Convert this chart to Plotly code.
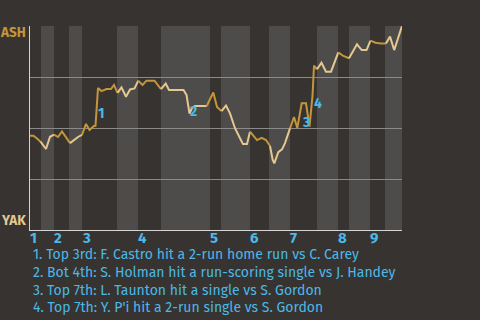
import plotly.graph_objects as go

# Half-inning boundaries along game progress axis (top/bottom alternating)
half_bounds = [0, 11, 24, 39, 52, 87, 108, 131, 180, 191, 220, 239, 260, 287, 308, 319, 340, 355, 372]
innings = ["1", "2", "3", "4", "5", "6", "7", "8", "9"]

# Game progress and ASH win probability
progress = [0, 3.5, 7, 10.5, 13, 16, 20, 24, 28, 32, 36, 40, 44, 48, 52, 56, 59.5, 64, 65.5,
            68, 71.5, 76.5, 81, 84, 87.5, 91.5, 96, 100, 104.5, 108.3, 112.5, 116.5, 120, 124.5,
            131, 135.7, 139, 144, 149, 153.5, 156.5, 159.5, 162, 165, 171, 176.7, 183.3, 187,
            191.5, 196, 200, 205, 210, 213, 217, 220, 223.5, 227, 231.7, 236, 240, 242.7, 244.3,
            248.3, 252, 255, 260, 264, 267.3, 271.7, 276, 279.5, 282.5, 284, 287, 291.5, 296,
            301, 308.3, 313.3, 319, 327, 331.7, 336.5, 340.5, 345.5, 351, 356, 360, 364.2, 368.3, 372]
ash_wp = [0.462, 0.462, 0.449, 0.433, 0.417, 0.397, 0.457, 0.468, 0.456, 0.483, 0.451, 0.426,
          0.441, 0.456, 0.466, 0.520, 0.490, 0.510, 0.511,
          0.696, 0.681, 0.691, 0.691, 0.711, 0.672, 0.699, 0.653, 0.689, 0.694, 0.732, 0.711,
          0.732, 0.732, 0.732,
          0.691, 0.718, 0.686, 0.686, 0.686, 0.686, 0.662, 0.571, 0.598, 0.608, 0.608, 0.608,
          0.674, 0.603,
          0.583, 0.610, 0.572, 0.499, 0.450, 0.422, 0.422, 0.482, 0.461, 0.441, 0.452, 0.441,
          0.412, 0.343, 0.327,
          0.382, 0.395, 0.426, 0.498, 0.554, 0.500, 0.621, 0.621, 0.507, 0.657, 0.806, 0.788,
          0.820, 0.776,
          0.776, 0.871, 0.853, 0.842, 0.910, 0.882, 0.882, 0.928, 0.918, 0.914, 0.914, 0.948,
          0.882, 0.946, 1.0]

event_labels = ["1", "2", "3", "4"]
event_x = [71, 163, 275.7, 287.7]
event_y = [0.569, 0.583, 0.525, 0.621]
event_text = [
    "1. Top 3rd: F. Castro hit a 2-run home run vs C. Carey",
    "2. Bot 4th: S. Holman hit a run-scoring single vs J. Handey",
    "3. Top 7th: L. Taunton hit a single vs S. Gordon",
    "4. Top 7th: Y. P'i hit a 2-run single vs S. Gordon",
]
teams = ["ASH", "YAK"]

BG = "#363330"
BAND = "#4e4c4a"
ASH_COL = "#c4963c"
YAK_COL = "#e4c890"
BLUE = "#4cb8e8"
FONT = "Fira Sans, Open Sans, sans-serif"

fig = go.Figure()

# split line into half-inning coloured segments
def half_index(xm):
    for i in range(len(half_bounds) - 1):
        if half_bounds[i] <= xm < half_bounds[i + 1]:
            return i
    return len(half_bounds) - 2

segs = []
cur = None
for i in range(len(progress) - 1):
    h = half_index((progress[i] + progress[i + 1]) / 2) % 2
    if cur is None or cur[0] != h:
        cur = [h, [progress[i]], [ash_wp[i]]]
        segs.append(cur)
    cur[1].append(progress[i + 1])
    cur[2].append(ash_wp[i + 1])

for h, xs, ys in segs:
    fig.add_trace(go.Scatter(x=xs, y=ys, mode="lines",
                             line=dict(color=ASH_COL if h == 0 else YAK_COL, width=2),
                             hoverinfo="skip", showlegend=False))

shapes = []
for i in range(1, len(half_bounds) - 1, 2):
    shapes.append(dict(type="rect", xref="x", yref="paper", x0=half_bounds[i], x1=half_bounds[i + 1],
                       y0=0, y1=1, fillcolor=BAND, line=dict(width=0), layer="below"))

ann = []
for lab, ex, ey in zip(event_labels, event_x, event_y):
    ann.append(dict(x=ex, y=ey, xref="x", yref="y", text="<b>%s</b>" % lab, showarrow=False,
                    font=dict(family=FONT, size=14, color=BLUE), xanchor="center", yanchor="middle"))
for k, inn in enumerate(innings):
    ann.append(dict(x=half_bounds[2 * k], y=-0.041, xref="x", yref="paper", text="<b>%s</b>" % inn,
                    showarrow=False, font=dict(family=FONT, size=15, color=BLUE),
                    xanchor="left", yanchor="middle", xshift=-2))
line_y = [-0.122, -0.209, -0.296, -0.382]
for t, ly in zip(event_text, line_y):
    ann.append(dict(x=0.0027, y=ly, xref="paper", yref="paper", text=t, showarrow=False,
                    font=dict(family=FONT, size=14, color=BLUE), xanchor="left", yanchor="middle"))
ann.append(dict(x=0, y=0.966, xref="paper", yref="paper", text="<b>%s</b>" % teams[0], showarrow=False,
                xanchor="right", yanchor="middle", xshift=-2, font=dict(family=FONT, size=13.5, color=ASH_COL)))
ann.append(dict(x=0, y=0.046, xref="paper", yref="paper", text="<b>%s</b>" % teams[1], showarrow=False,
                xanchor="right", yanchor="middle", xshift=-2, font=dict(family=FONT, size=13.5, color=YAK_COL)))

fig.update_layout(
    width=480, height=320,
    margin=dict(l=30, r=78, t=26, b=90),
    paper_bgcolor=BG, plot_bgcolor=BG,
    shapes=shapes, annotations=ann,
    xaxis=dict(range=[0, 372], showgrid=False, zeroline=False, showticklabels=False, ticks="",
               showline=True, linecolor="#d4d4d4", linewidth=1),
    yaxis=dict(range=[0, 1], tickvals=[0.25, 0.5, 0.75, 1.0], showticklabels=False, ticks="",
               showgrid=True, gridcolor="#8a8a8a", gridwidth=1, zeroline=False,
               showline=True, linecolor="#d4d4d4", linewidth=1),
    font=dict(family=FONT),
)

fig.write_html("out.html")
